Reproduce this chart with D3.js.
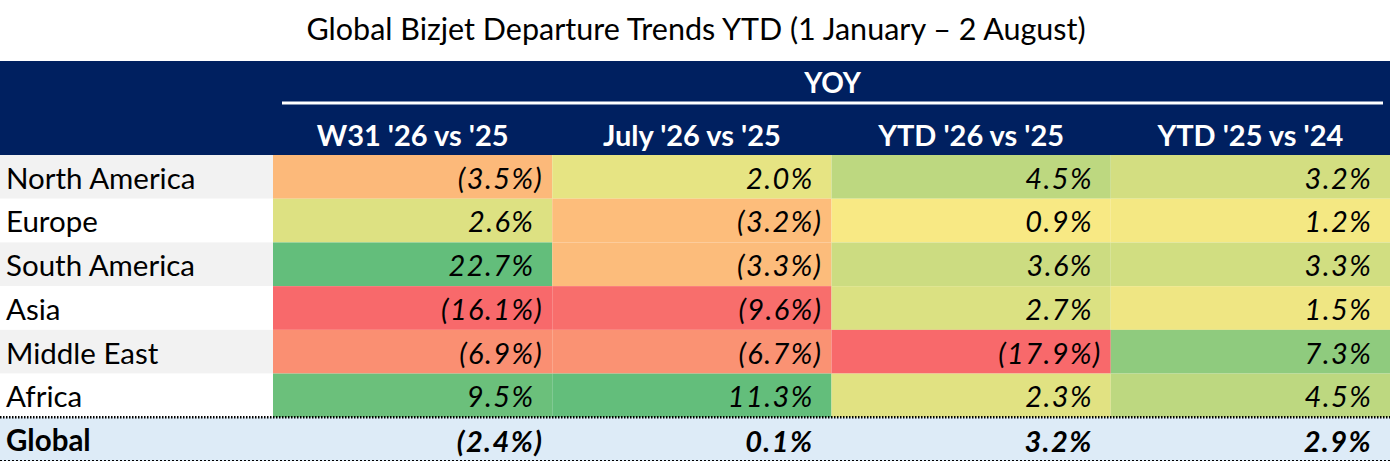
<!DOCTYPE html>
<html>
<head>
<meta charset="utf-8">
<script src="https://cdn.jsdelivr.net/npm/d3@7"></script>
<style>
  body { margin: 0; background: #fff; }
  text { font-family: Lato, "Open Sans", sans-serif; }
</style>
</head>
<body>
<script>
var regions = ["North America", "Europe", "South America", "Asia", "Middle East", "Africa"];
var columns = ["W31 '26 vs '25", "July '26 vs '25", "YTD '26 vs '25", "YTD '25 vs '24"];
var w31 = [-3.5, 2.6, 22.7, -16.1, -6.9, 9.5];
var july = [2.0, -3.2, -3.3, -9.6, -6.7, 11.3];
var ytd26 = [4.5, 0.9, 3.6, 2.7, -17.9, 2.3];
var ytd25 = [3.2, 1.2, 3.3, 1.5, 7.3, 4.5];
var globalRow = [-2.4, 0.1, 3.2, 2.9];
var series = [w31, july, ytd26, ytd25];

var width = 1390, height = 462;
var svg = d3.select("body").append("svg")
  .attr("width", width)
  .attr("height", height);

var labelW = 273,
  headTop = 61,
  bodyTop = 155;

var x = d3.scaleBand()
  .domain(columns)
  .range([labelW, width]);

var y = d3.scaleBand()
  .domain(regions.concat(["Global"]))
  .range([bodyTop, 461]);

var color = d3.scaleLinear()
  .domain([-10, 0.5, 10])
  .range(["#F8696B", "#FFEB84", "#63BE7B"])
  .clamp(true);

var fmt = function(v) {
  var s = Math.abs(v).toFixed(1) + "%";
  return v < 0 ? "(" + s : s;
};

// title
svg.append("text")
  .attr("x", 696)
  .attr("y", 40)
  .attr("text-anchor", "middle")
  .style("font-size", "30.5px")
  .attr("fill", "#000")
  .text("Global Bizjet Departure Trends YTD (1 January \u2013 2 August)");

// header band
svg.append("rect")
  .attr("x", 0).attr("y", headTop)
  .attr("width", width).attr("height", bodyTop - headTop)
  .attr("fill", "#002060");

svg.append("line")
  .attr("x1", 282).attr("x2", 1383)
  .attr("y1", 103).attr("y2", 103)
  .attr("stroke", "#fff")
  .attr("stroke-width", 3);

svg.append("text")
  .attr("x", (282 + 1383) / 2)
  .attr("y", 93)
  .attr("text-anchor", "middle")
  .attr("fill", "#fff")
  .style("font-size", "28px")
  .style("font-weight", "bold")
  .text("YOY");

svg.selectAll(".colhead")
  .data(columns)
  .enter().append("text")
  .attr("class", "colhead")
  .attr("x", function(d) { return x(d) + x.bandwidth() / 2; })
  .attr("y", 146)
  .attr("text-anchor", "middle")
  .attr("fill", "#fff")
  .style("font-size", "29px")
  .style("font-weight", "bold")
  .text(function(d) { return d; });

// row label backgrounds
svg.selectAll(".rowbg")
  .data(regions)
  .enter().append("rect")
  .attr("class", "rowbg")
  .attr("x", 0)
  .attr("y", function(d) { return y(d); })
  .attr("width", labelW)
  .attr("height", y.bandwidth())
  .attr("fill", function(d, i) { return i % 2 === 0 ? "#F2F2F2" : "#FFFFFF"; });

// global row background
svg.append("rect")
  .attr("x", 0).attr("y", y("Global"))
  .attr("width", width).attr("height", y.bandwidth())
  .attr("fill", "#DDEBF7");

// cells
var cells = [];
series.forEach(function(s, c) {
  s.forEach(function(v, r) {
    cells.push({ col: columns[c], row: regions[r], value: v });
  });
});

svg.selectAll(".cell")
  .data(cells)
  .enter().append("rect")
  .attr("class", "cell")
  .attr("x", function(d) { return x(d.col); })
  .attr("y", function(d) { return y(d.row); })
  .attr("width", x.bandwidth())
  .attr("height", y.bandwidth())
  .attr("fill", function(d) { return color(d.value); });

function valueText(sel) {
  sel.attr("x", function(d) { return x(d.col) + x.bandwidth() - 9; })
    .attr("text-anchor", "end")
    .attr("fill", "#000")
    .style("font-style", "italic")
    .style("letter-spacing", "1.4px")
    .each(function(d) {
      var t = d3.select(this);
      t.append("tspan").text(fmt(d.value));
      // keep room for the closing paren so the digits line up
      t.append("tspan")
        .attr("fill-opacity", d.value < 0 ? 1 : 0)
        .text(")");
    });
}

svg.selectAll(".val")
  .data(cells)
  .enter().append("text")
  .attr("class", "val")
  .attr("y", function(d) { return y(d.row) + y.bandwidth() - 10; })
  .style("font-size", "29px")
  .call(valueText);

svg.selectAll(".rowlab")
  .data(regions.concat(["Global"]))
  .enter().append("text")
  .attr("class", "rowlab")
  .attr("x", 6)
  .attr("y", function(d) { return y(d) + y.bandwidth() - 10; })
  .attr("fill", "#000")
  .style("font-size", "29.5px")
  .style("font-weight", function(d) { return d === "Global" ? "bold" : "normal"; })
  .text(function(d) { return d; });

var gcells = globalRow.map(function(v, c) {
  return { col: columns[c], row: "Global", value: v };
});

svg.selectAll(".gval")
  .data(gcells)
  .enter().append("text")
  .attr("class", "gval")
  .attr("y", y("Global") + y.bandwidth() - 9)
  .style("font-size", "29px")
  .style("font-weight", "bold")
  .call(valueText);

// dotted borders around the Global row
svg.append("line")
  .attr("x1", 0).attr("x2", width)
  .attr("y1", y("Global")).attr("y2", y("Global"))
  .attr("stroke", "#000")
  .attr("stroke-width", 2.5)
  .attr("stroke-dasharray", "1.5,1.5");

svg.append("line")
  .attr("x1", 0).attr("x2", width)
  .attr("y1", 460.5).attr("y2", 460.5)
  .attr("stroke", "#000")
  .attr("stroke-width", 1)
  .attr("stroke-dasharray", "2,2");
</script>
</body>
</html>
